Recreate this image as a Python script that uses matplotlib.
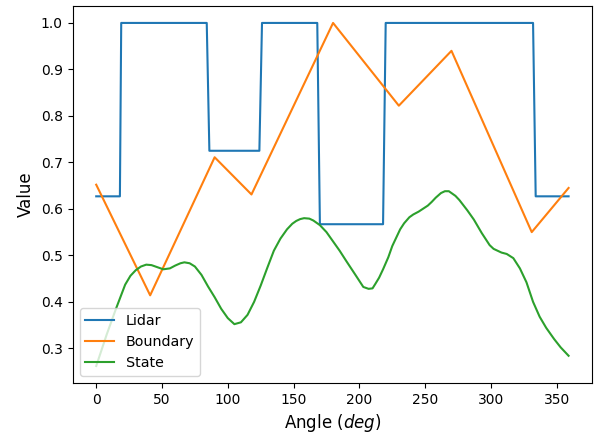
import matplotlib
matplotlib.use("Agg")
import matplotlib.pyplot as plt

# Lidar reading (step profile)
LIDAR_ANG = [0, 18, 19, 84, 86, 124, 126, 168, 170, 218, 220, 332, 334, 359]
LIDAR_VAL = [0.627, 0.627, 1.0, 1.0, 0.725, 0.725, 1.0, 1.0, 0.567, 0.567,
             1.0, 1.0, 0.627, 0.627]

# Boundary (piecewise linear)
BOUND_ANG = [0, 41, 90, 118, 180, 230, 270, 331, 359]
BOUND_VAL = [0.652, 0.414, 0.711, 0.631, 1.0, 0.822, 0.940, 0.550, 0.645]

# State (smooth curve)
STATE_ANG = [0, 8, 15, 22, 26, 30, 34, 38, 42, 45, 51, 56, 60, 64, 67, 71,
             75, 80, 85, 90, 95, 100, 105, 110, 115, 120, 125, 130, 135, 140,
             145, 149, 152, 155, 158, 162, 165, 170, 175, 180, 185, 190, 197,
             203, 207, 210, 212, 215, 218, 222, 225, 231, 234, 238, 241, 245,
             252, 255, 258, 262, 265, 268, 270, 273, 276, 282, 287, 293, 299,
             302, 305, 308, 312, 317, 322, 327, 332, 337, 342, 348, 353, 359]
STATE_VAL = [0.262, 0.330, 0.385, 0.437, 0.456, 0.468, 0.476, 0.480, 0.479,
             0.476, 0.470, 0.472, 0.478, 0.483, 0.485, 0.483, 0.476, 0.458,
             0.433, 0.410, 0.385, 0.365, 0.352, 0.356, 0.372, 0.400, 0.435,
             0.473, 0.510, 0.536, 0.556, 0.568, 0.574, 0.578, 0.580, 0.579,
             0.575, 0.565, 0.550, 0.530, 0.510, 0.488, 0.458, 0.432, 0.428,
             0.429, 0.438, 0.452, 0.470, 0.496, 0.520, 0.556, 0.569, 0.582,
             0.588, 0.594, 0.607, 0.615, 0.624, 0.634, 0.638, 0.638, 0.634,
             0.628, 0.619, 0.597, 0.577, 0.548, 0.522, 0.514, 0.510, 0.506,
             0.503, 0.494, 0.472, 0.442, 0.400, 0.368, 0.344, 0.320, 0.302,
             0.284]

fig, ax = plt.subplots(figsize=(6, 4.45), dpi=100)
fig.subplots_adjust(left=0.121, right=0.987, top=0.987, bottom=0.139)

ax.plot(LIDAR_ANG, LIDAR_VAL, label="Lidar")
ax.plot(BOUND_ANG, BOUND_VAL, label="Boundary")
ax.plot(STATE_ANG, STATE_VAL, label="State")

ax.set_xlabel("Angle ($deg$)", fontsize=12)
ax.set_ylabel("Value", fontsize=12)
ax.legend(loc="lower left", fontsize=10.3)

fig.savefig("out.png", dpi=100)
